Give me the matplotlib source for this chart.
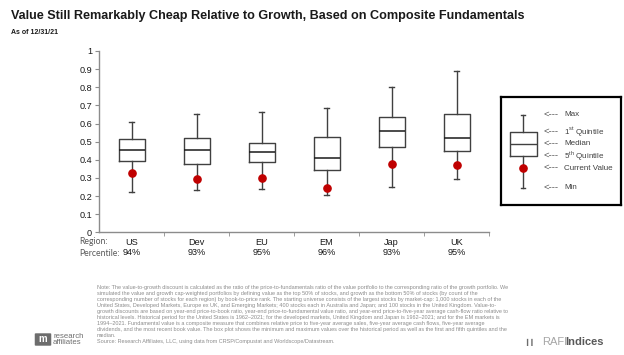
import numpy as np
import matplotlib.pyplot as plt
from matplotlib.patches import FancyBboxPatch

plt.rcParams['font.family'] = ['Liberation Sans', 'DejaVu Sans']
plt.rcParams['mathtext.fontset'] = 'custom'
plt.rcParams['mathtext.rm'] = 'Liberation Sans'

# dados
regions = ['US', 'Dev', 'EU', 'EM', 'Jap', 'UK']
percentiles = ['94%', '93%', '95%', '96%', '93%', '95%']
v_max = [0.608, 0.650, 0.661, 0.688, 0.799, 0.887]
v_q1 = [0.515, 0.519, 0.495, 0.523, 0.637, 0.654]   # 1st quintile (topo da caixa)
v_med = [0.456, 0.453, 0.444, 0.409, 0.558, 0.521]
v_q5 = [0.392, 0.376, 0.385, 0.342, 0.468, 0.447]   # 5th quintile (base da caixa)
v_min = [0.223, 0.235, 0.241, 0.206, 0.250, 0.296]
current = [0.328, 0.293, 0.302, 0.243, 0.377, 0.372]
y_ticks = [0, 0.1, 0.2, 0.3, 0.4, 0.5, 0.6, 0.7, 0.8, 0.9, 1]
y_labels = ['0', '0.1', '0.2', '0.3', '0.4', '0.5', '0.6', '0.7', '0.8', '0.9', '1']

# amostra usada na legenda (unidades do eixo da legenda)
key_values = [90, 73, 61, 49, 36.7, 17]
key_labels = ['Max', '1$^{\\rm st}$ Quintile', 'Median', '5$^{\\rm th}$ Quintile',
              'Current Value', 'Min']

title = 'Value Still Remarkably Cheap Relative to Growth, Based on Composite Fundamentals'
subtitle = 'As of 12/31/21'
note_lines = [
    'Note: The value-to-growth discount is calculated as the ratio of the price-to-fundamentals ratio of the value portfolio to the corresponding ratio of the growth portfolio. We',
    'simulated the value and growth cap-weighted portfolios by defining value as the top 50% of stocks, and growth as the bottom 50% of stocks (by count of the',
    'corresponding number of stocks for each region) by book-to-price rank. The starting universe consists of the largest stocks by market-cap: 1,000 stocks in each of the',
    'United States, Developed Markets, Europe ex UK, and Emerging Markets; 400 stocks each in Australia and Japan; and 100 stocks in the United Kingdom. Value-to-',
    'growth discounts are based on year-end price-to-book ratio, year-end price-to-fundamental value ratio, and year-end price-to-five-year average cash-flow ratio relative to',
    'historical levels. Historical period for the United States is 1962\u20132021; for the developed markets, United Kingdom and Japan is 1962\u20132021; and for the EM markets is',
    '1994\u20132021. Fundamental value is a composite measure that combines relative price to five-year average sales, five-year average cash flows, five-year average',
    'dividends, and the most recent book value. The box plot shows the minimum and maximum values over the historical period as well as the first and fifth quintiles and the',
    'median.',
    'Source: Research Affiliates, LLC, using data from CRSP/Compustat and Worldscope/Datastream.',
]

box_color = '#404040'
dot_color = '#C00000'
axis_color = '#8c8c8c'

fig = plt.figure(figsize=(6.24, 3.55), dpi=100)
ax = fig.add_axes([99 / 624, 1 - 232.3 / 355, 390 / 624, 181.3 / 355])

# montando as estatisticas das caixas
positions = np.arange(len(regions))
stats = []
for i in range(len(regions)):
    stats.append({'med': v_med[i], 'q1': v_q5[i], 'q3': v_q1[i],
                  'whislo': v_min[i], 'whishi': v_max[i], 'fliers': []})

line = dict(color=box_color, linewidth=1.0)
ax.bxp(stats, positions=positions, widths=0.4, capwidths=0.07,
       showfliers=False, boxprops=line, whiskerprops=line, capprops=line,
       medianprops=dict(color='#1a1a1a', linewidth=1.1), manage_ticks=False)
ax.plot(positions, current, 'o', color=dot_color, markersize=5.2, zorder=4)

# configurando os eixos
ax.set_xlim(-0.5, len(regions) - 0.5)
ax.set_ylim(0, 1)
ax.set_yticks(y_ticks, y_labels)
ax.set_xticks(positions, [f'{r}\n{p}' for r, p in zip(regions, percentiles)])
ax.set_xticks(positions + 0.5, minor=True)
ax.tick_params(axis='x', which='major', length=0, pad=4, labelsize=6.6,
               labelcolor='#1a1a1a')
ax.tick_params(axis='x', which='minor', length=3, color=axis_color)
ax.tick_params(axis='y', length=3, color=axis_color, labelsize=6.6,
               labelcolor='#1a1a1a', pad=2)
for lbl in ax.get_xticklabels():
    lbl.set_linespacing(1.15)
for side in ['top', 'right']:
    ax.spines[side].set_visible(False)
for side in ['left', 'bottom']:
    ax.spines[side].set_color(axis_color)
    ax.spines[side].set_linewidth(1.0)
ax.set_facecolor('none')

fig.text(79 / 624, 1 - 242 / 355, 'Region:', fontsize=6.2, color='#595959',
         family=['Lato', 'DejaVu Sans'], va='center', ha='left')
fig.text(79 / 624, 1 - 253 / 355, 'Percentile:', fontsize=6.2, color='#595959',
         family=['Lato', 'DejaVu Sans'], va='center', ha='left')

# legenda desenhada a mao
lax = fig.add_axes([501 / 624, 1 - 204.7 / 355, 120 / 624, 108 / 355])
for sp in lax.spines.values():
    sp.set_linewidth(1.6)
    sp.set_color('black')
key_stat = [{'whishi': key_values[0], 'q3': key_values[1], 'med': key_values[2],
             'q1': key_values[3], 'whislo': key_values[5], 'fliers': []}]
lax.bxp(key_stat, positions=[22], widths=27, capwidths=4.5, showfliers=False,
        boxprops=line, whiskerprops=line, capprops=line,
        medianprops=dict(color=box_color, linewidth=1.0), manage_ticks=False)
lax.plot([22], [key_values[4]], 'o', color=dot_color, markersize=5.2, zorder=4)
lax.set_xlim(0, 120)
lax.set_ylim(0, 108)
lax.set_xticks([])
lax.set_yticks([])
for val, lab in zip(key_values, key_labels):
    lax.text(43, val + 0.5, '<---', fontsize=6.8, color='#595959', va='center', ha='left')
    lax.text(63, val, lab, fontsize=5.8, color='#404040', va='center', ha='left')

# titulo e subtitulo (ajustando o tamanho para caber na largura original)
t = fig.text(11 / 624, 1 - 16 / 355, title, fontsize=11, weight='bold', color='#1a1a1a',
             va='center', ha='left')
renderer = fig.canvas.get_renderer()
w = t.get_window_extent(renderer).width
t.set_fontsize(11 * 517 / w)
fig.text(11 / 624, 1 - 33 / 355, subtitle, fontsize=5, weight='bold', color='#1a1a1a',
         va='center', ha='left')

# nota de rodape
fig.text(97 / 624, 1 - 285 / 355, '\n'.join(note_lines), fontsize=3.95, color='#8c8c8c',
         va='top', ha='left', linespacing=1.26)

# logos
fig.patches.append(FancyBboxPatch((36 / 624, 1 - 345 / 355), 14 / 624, 11 / 355,
                                  boxstyle='round,pad=0.002', transform=fig.transFigure,
                                  facecolor='#6d6d6d', edgecolor='none'))
fig.text(43 / 624, 1 - 339.5 / 355, 'm', fontsize=7, weight='bold', color='white',
         va='center', ha='center')
fig.text(53 / 624, 1 - 339.5 / 355, 'research\naffiliates', fontsize=5.6,
         color='#6d6d6d', va='center', ha='left', linespacing=0.95)
fig.text(526 / 624, 1 - 342 / 355, '\u258e\u258e', fontsize=5, color='#6d6d6d',
         va='center', ha='left', style='italic')
fig.text(542 / 624, 1 - 342 / 355, 'RAFI', fontsize=8, color='#a6a6a6',
         va='center', ha='left')
fig.text(565 / 624, 1 - 342 / 355, 'Indices', fontsize=8, weight='bold', color='#595959',
         va='center', ha='left')

fig.savefig('out.png', dpi=100)
